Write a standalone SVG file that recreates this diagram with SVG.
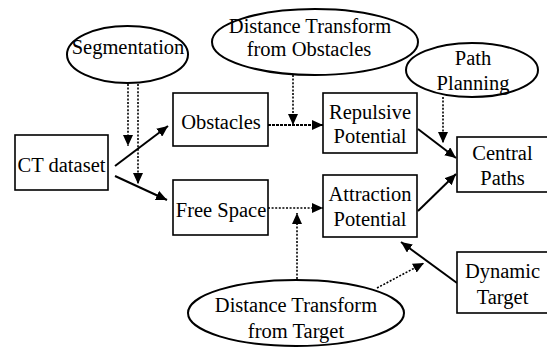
<svg xmlns="http://www.w3.org/2000/svg" width="547" height="349" viewBox="0 0 547 349">
  <defs>
    <style>
      .box { fill: #fff; stroke: #000; stroke-width: 1.6; }
      .oval { fill: #fff; stroke: #000; stroke-width: 2; }
      .solid { stroke: #000; stroke-width: 2; fill: none; marker-end: url(#head); }
      .dot { stroke: #000; stroke-width: 1.6; fill: none; stroke-dasharray: 2 1.6; marker-end: url(#head); }
      .dash { stroke: #000; stroke-width: 1.8; fill: none; stroke-dasharray: 3 1; marker-end: url(#head); }
    </style>
    <marker id="head" markerUnits="userSpaceOnUse" markerWidth="12" markerHeight="10" refX="11" refY="5" orient="auto">
      <path d="M0,0 L11,5 L0,10 Z" fill="#000"/>
    </marker>
  </defs>

  <rect width="547" height="349" fill="#fff"/>

  <!-- connectors -->
  <g id="connectors">
    <line class="solid" x1="115" y1="166" x2="168" y2="126"/>
    <line class="solid" x1="115" y1="176" x2="167" y2="200"/>
    <line class="dot" x1="128" y1="84" x2="128" y2="146"/>
    <line class="dot" x1="138" y1="84" x2="138" y2="184"/>
    <line class="dot" x1="293" y1="75" x2="293" y2="125"/>
    <line class="dash" x1="268" y1="125" x2="323" y2="125"/>
    <line class="dot" x1="443" y1="97" x2="443" y2="143"/>
    <line class="solid" x1="418" y1="129" x2="456" y2="158"/>
    <line class="solid" x1="418" y1="211" x2="456" y2="174"/>
    <line class="dot" x1="268" y1="208" x2="323" y2="208"/>
    <line class="dot" x1="297" y1="279" x2="297" y2="213"/>
    <line class="dot" x1="377" y1="288" x2="424" y2="263"/>
    <line class="solid" x1="457" y1="283" x2="401" y2="242"/>
  </g>

  <!-- nodes: serif labels, centred -->
  <g font-family="Liberation Serif, serif" font-size="20.5" text-anchor="middle" fill="#000">
    <g id="segmentation">
      <ellipse class="oval" cx="127.5" cy="54.5" rx="60.5" ry="28.5"/>
      <text x="128" y="54">Segmentation</text>
    </g>

    <g id="dt-obstacles">
      <ellipse class="oval" cx="315" cy="42" rx="103" ry="33"/>
      <text x="310" y="33">Distance Transform</text>
      <text x="309" y="56">from Obstacles</text>
    </g>

    <g id="path-planning">
      <ellipse class="oval" cx="472" cy="70" rx="66" ry="27"/>
      <text x="473" y="65">Path</text>
      <text x="473" y="90">Planning</text>
    </g>

    <g id="ct-dataset">
      <rect class="box" x="15" y="135" width="93" height="55"/>
      <text x="61.5" y="172">CT dataset</text>
    </g>

    <g id="obstacles">
      <rect class="box" x="173" y="93" width="95" height="53"/>
      <text x="221" y="129">Obstacles</text>
    </g>

    <g id="free-space">
      <rect class="box" x="173" y="180" width="95" height="55"/>
      <text x="221" y="217">Free Space</text>
    </g>

    <g id="repulsive">
      <rect class="box" x="323" y="93" width="94" height="60"/>
      <text x="370" y="119">Repulsive</text>
      <text x="370" y="143">Potential</text>
    </g>

    <g id="attraction">
      <rect class="box" x="323" y="175" width="94" height="62"/>
      <text x="370" y="201">Attraction</text>
      <text x="370" y="226">Potential</text>
    </g>

    <g id="central-paths">
      <rect class="box" x="457" y="137" width="95" height="55"/>
      <text x="502.5" y="160">Central</text>
      <text x="502.5" y="185">Paths</text>
    </g>

    <g id="dynamic-target">
      <rect class="box" x="457" y="252" width="95" height="61"/>
      <text x="502.5" y="278">Dynamic</text>
      <text x="502.5" y="304">Target</text>
    </g>

    <g id="dt-target">
      <ellipse class="oval" cx="296" cy="313" rx="108" ry="33"/>
      <text x="296" y="312">Distance Transform</text>
      <text x="296" y="338">from Target</text>
    </g>
  </g>
</svg>
